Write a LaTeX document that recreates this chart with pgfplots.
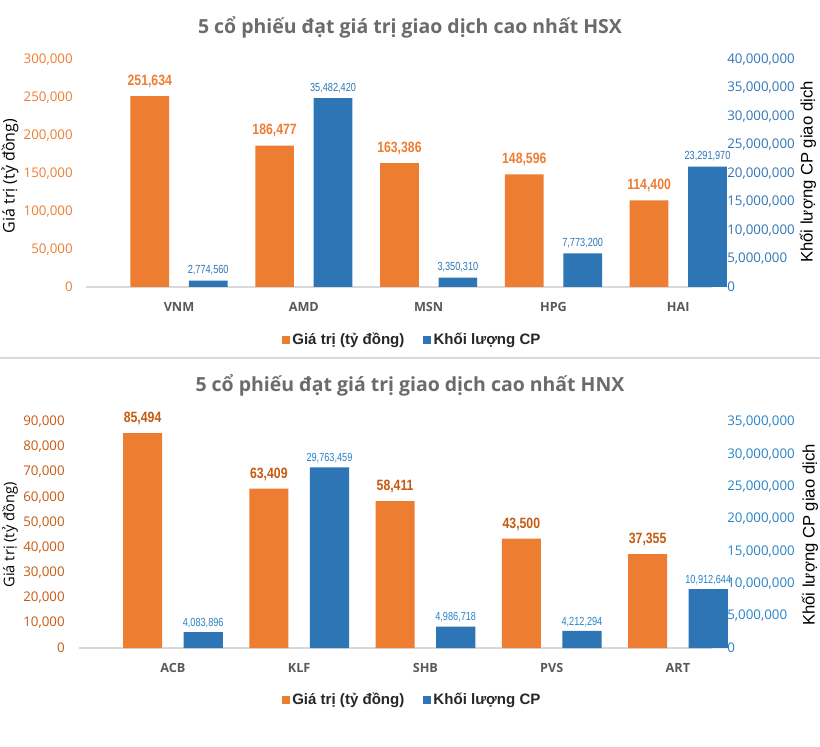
\documentclass[border=0pt]{standalone}
\usepackage{pgfplots}
\pgfplotsset{compat=1.18}
\usepackage{pgfplotstable}
\usepackage{fontspec}
\setmainfont{Open Sans}
\newfontfamily\narrowf[FakeStretch=0.82]{Liberation Sans}
\newfontfamily\narrowb[FakeStretch=0.78]{Liberation Sans}
\newfontfamily\arialf{Liberation Sans}
\definecolor{orangeC}{HTML}{ED7D31}
\definecolor{blueC}{HTML}{2E75B6}
\definecolor{orangeD}{HTML}{C55A11}
\definecolor{blueB}{HTML}{2683C6}
\definecolor{catgray}{HTML}{595959}
\definecolor{titlegray}{HTML}{6B6B6B}
\definecolor{sepgray}{HTML}{D9D9D9}
\definecolor{legtext}{HTML}{262626}
\newcommand\tickfont{\fontsize{10}{12}\selectfont}
\newcommand\catfont{\fontsize{9.5}{11}\selectfont\bfseries}
\newcommand\orlab{\narrowf\fontsize{11.2}{13}\selectfont\bfseries}
\newcommand\bllab{\narrowb\fontsize{8.8}{10}\selectfont}
\newcommand\titlefont{\fontsize{14.6}{17}\selectfont\bfseries}
\newcommand\legfont{\arialf\fontsize{11.3}{13}\selectfont\bfseries}

% x positions: category index minus/plus the bar offset within the pair
\pgfplotstableread{
x y
-0.234 251634
0.766 186477
1.766 163386
2.766 148596
3.766 114400
}\hsxval
\pgfplotstableread{
x y lab
0.234 1100000 {2,774,560}
1.234 33200000 {35,482,420}
2.234 1630000 {3,350,310}
3.234 5930000 {7,773,200}
4.234 21150000 {23,291,970}
}\hsxvol
\pgfplotstableread{
x y
-0.24 85494
0.76 63409
1.76 58411
2.76 43500
3.76 37355
}\hnxval
\pgfplotstableread{
x y lab
0.24 2470000 {4,083,896}
1.24 27950000 {29,763,459}
2.24 3290000 {4,986,718}
3.24 2630000 {4,212,294}
4.24 9120000 {10,912,644}
}\hnxvol

\pgfplotsset{
  basecommon/.style={
    scale only axis, anchor=south west, clip=false,
    xmin=-0.745, xmax=4.27, ymin=0,
    major tick length=0pt,
    scaled y ticks=false,
    /pgf/number format/fixed,
    /pgf/number format/precision=0,
    /pgf/number format/1000 sep={,},
    /pgf/number format/assume math mode=true,
  },
  leftax/.style={
    basecommon,
    axis x line*=bottom, axis y line*=left,
    x axis line style={draw=sepgray, line width=0.9pt, -},
    y axis line style={draw=none},
    xtick={0,1,2,3,4},
    xticklabel style={font=\catfont, text=catgray, anchor=base, yshift=-18.3pt, inner sep=0pt},
  },
  rightax/.style={
    basecommon,
    axis x line=none, axis y line*=right,
    y axis line style={draw=none},
    yticklabel style={font=\tickfont, text=#1, anchor=west, inner sep=0pt, xshift=11.25pt},
    legend columns=2,
    legend style={draw=none, fill=none, font=\legfont, text=legtext, anchor=center,
      nodes={inner sep=2pt},
      /tikz/every even column/.append style={column sep=12pt}},
  },
  barsty/.style={ybar, bar width=0.31, bar shift=0pt, draw=none},
}

\begin{document}
\begin{tikzpicture}
\useasboundingbox (0,0) rectangle (615pt,559.5pt);

% ---------------- Top chart (HSX) ----------------
\node[font=\titlefont, text=titlegray] at (307.5pt,539.25pt) {5 cổ phiếu đạt giá trị giao dịch cao nhất HSX};

\begin{axis}[leftax,
  at={(64.5pt,344.25pt)}, width=469.5pt, height=170.6pt,
  ymax=300000,
  xticklabels={VNM,AMD,MSN,HPG,HAI},
  ytick={0,50000,100000,150000,200000,250000,300000},
  yticklabel style={font=\tickfont, text=orangeC, anchor=east, inner sep=0pt, xshift=-9.75pt},
]
\addplot[barsty, fill=orangeC,
  nodes near coords,
  nodes near coords style={font=\orlab, text=orangeC, anchor=south, inner sep=0pt, yshift=6.2pt}]
  table[x=x, y=y] {\hsxval};
\end{axis}

\begin{axis}[rightax=blueC,
  at={(64.5pt,344.25pt)}, width=469.5pt, height=170.6pt,
  ymax=40000000,
  ytick={0,5000000,10000000,15000000,20000000,25000000,30000000,35000000,40000000},
  legend style={at={(0.5216,-0.231)}},
]
\addlegendimage{legend image code/.code={\fill[orangeC] (0pt,-2.7pt) rectangle (5.4pt,2.8pt);}}
\addlegendimage{legend image code/.code={\fill[blueC] (0pt,-2.7pt) rectangle (5.4pt,2.8pt);}}
\addplot[barsty, fill=blueC, forget plot,
  point meta=explicit symbolic,
  nodes near coords,
  nodes near coords style={font=\bllab, text=blueC, anchor=south, inner sep=0pt, yshift=4.0pt}]
  table[x=x, y=y, meta=lab] {\hsxvol};
\legend{Giá trị (tỷ đồng), Khối lượng CP}
\end{axis}

\node[rotate=90, font=\fontsize{12}{14}\selectfont] at (7.5pt,427.5pt) {Giá trị (tỷ đồng)};
\node[rotate=90, font=\arialf\fontsize{12.5}{14}\selectfont] at (606pt,430.5pt) {Khối lượng CP giao dịch};

% separator
\draw[sepgray, line width=1.5pt] (0pt,291pt) -- (615pt,291pt);

% ---------------- Bottom chart (HNX) ----------------
\node[font=\titlefont, text=titlegray] at (307.5pt,270.75pt) {5 cổ phiếu đạt giá trị giao dịch cao nhất HNX};

\begin{axis}[leftax,
  at={(59.6pt,73.5pt)}, width=474.4pt, height=169.7pt,
  xmin=-0.74,
  ymax=90000,
  xticklabels={ACB,KLF,SHB,PVS,ART},
  ytick={0,10000,20000,30000,40000,50000,60000,70000,80000,90000},
  yticklabel style={font=\tickfont, text=orangeD, anchor=east, inner sep=0pt, xshift=-10.9pt},
]
\addplot[barsty, fill=orangeC,
  nodes near coords,
  nodes near coords style={font=\orlab, text=orangeD, anchor=south, inner sep=0pt, yshift=6pt}]
  table[x=x, y=y] {\hnxval};
\end{axis}

\begin{axis}[rightax=blueB,
  at={(59.6pt,73.5pt)}, width=474.4pt, height=169.7pt,
  xmin=-0.74,
  ymax=35000000,
  ytick={0,5000000,10000000,15000000,20000000,25000000,30000000,35000000},
  legend style={at={(0.5265,-0.23)}},
]
\addlegendimage{legend image code/.code={\fill[orangeC] (0pt,-2.7pt) rectangle (5.4pt,2.8pt);}}
\addlegendimage{legend image code/.code={\fill[blueC] (0pt,-2.7pt) rectangle (5.4pt,2.8pt);}}
\addplot[barsty, fill=blueC, forget plot,
  point meta=explicit symbolic,
  nodes near coords,
  nodes near coords style={font=\bllab, text=blueB, anchor=south, inner sep=0pt, yshift=3.1pt}]
  table[x=x, y=y, meta=lab] {\hnxvol};
\legend{Giá trị (tỷ đồng), Khối lượng CP}
\end{axis}

\node[rotate=90, font=\fontsize{11}{13}\selectfont] at (7.5pt,158.25pt) {Giá trị (tỷ đồng)};
\node[rotate=90, font=\arialf\fontsize{12.5}{14}\selectfont] at (607.5pt,158.25pt) {Khối lượng CP giao dịch};
\end{tikzpicture}
\end{document}
